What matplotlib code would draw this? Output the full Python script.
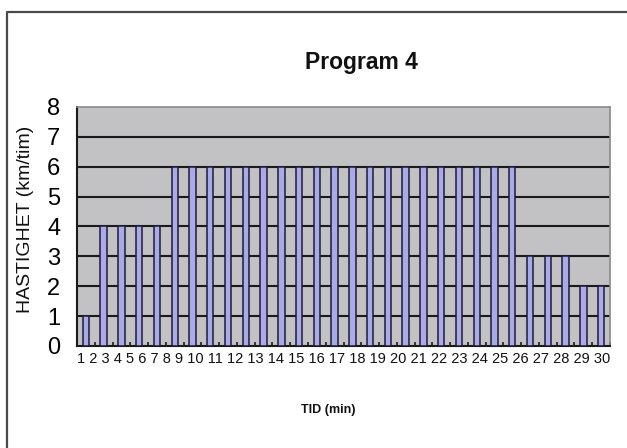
import numpy as np
import matplotlib.pyplot as plt
from matplotlib.lines import Line2D

plt.rcParams['font.family'] = ['Liberation Sans', 'DejaVu Sans']

# speed per minute of the program
minutes = list(range(1, 31))
speed = [1, 4, 4, 4, 4,
         6, 6, 6, 6, 6, 6, 6, 6, 6, 6, 6, 6, 6, 6, 6, 6, 6, 6, 6, 6,
         3, 3, 3, 2, 2]
y_ticks = list(range(0, 9))

fig = plt.figure(figsize=(6.27, 4.48), dpi=100)
fig.patch.set_facecolor('white')

# outer chart border (left and top only)
fig.add_artist(Line2D([0.0112, 0.0112, 1.0], [0.0, 0.9732, 0.9732],
                      transform=fig.transFigure, color='#4a4a4a', lw=1.6))

ax = fig.add_axes([0.1228, 0.2277, 0.8501, 0.5335])
ax.set_facecolor('#c2c2c4')

x = np.arange(len(minutes))
ax.bar(x, speed, width=0.36, color='#aaaae8', edgecolor='#1c1c3a',
       linewidth=1.1, zorder=3)

ax.set_xlim(-0.5, len(minutes) - 0.5)
ax.set_ylim(0, 8)
ax.set_yticks(y_ticks)
ax.set_yticklabels([str(v) for v in y_ticks], fontsize=17)
ax.tick_params(axis='y', length=0, pad=12)

# small inside ticks between categories, no labels on the axis itself
ax.set_xticks([])
ax.set_xticks(np.arange(-0.5, len(minutes)), minor=True)
ax.tick_params(axis='x', which='minor', direction='in', length=3,
               width=1.2, color='#1c1c1c')

for v in y_ticks[1:-1]:
    ax.axhline(v, color='#1a1a1a', lw=1.5, zorder=2)

for side in ['top', 'right']:
    ax.spines[side].set_color('#8a8a8a')
    ax.spines[side].set_linewidth(1.2)
for side in ['left', 'bottom']:
    ax.spines[side].set_color('#1a1a1a')
    ax.spines[side].set_linewidth(1.5)

# minute numbers written as one line under the axis
ax.text(0.5, -0.055, ' '.join(str(m) for m in minutes), transform=ax.transAxes,
        ha='center', va='center', fontsize=10.5, color='#111111')

fig.text(0.576, 0.860, 'Program 4', ha='center', va='center',
         fontsize=16.5, fontweight='bold', color='#111111')
fig.text(0.523, 0.085, 'TID (min)', ha='center', va='center',
         fontsize=9, fontweight='bold', color='#111111')
fig.text(0.040, 0.51, 'HASTIGHET (km/tim)', ha='center', va='center',
         rotation=90, fontsize=14, color='#111111')

fig.savefig('out.png', dpi=100)
